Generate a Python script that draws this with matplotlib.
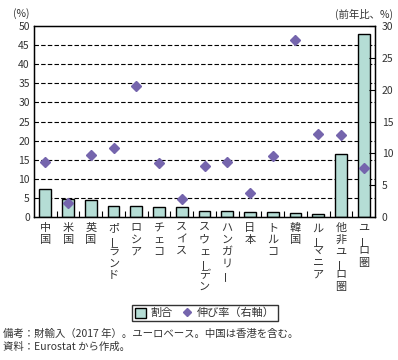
import matplotlib.pyplot as plt
from matplotlib.lines import Line2D
from matplotlib.patches import Patch

plt.rcParams['font.family'] = ['Noto Sans CJK JP', 'DejaVu Sans']

categories = ['中国', '米国', '英国', 'ポーランド', 'ロシア', 'チェコ', 'スイス',
              'スウェーデン', 'ハンガリー', '日本', 'トルコ', '韓国', 'ルーマニア',
              '他非ユーロ圏', 'ユーロ圏']
share = [7.3, 4.8, 4.4, 2.8, 2.8, 2.5, 2.5, 1.6, 1.6, 1.2, 1.2, 1.0, 0.7, 16.4, 47.8]
growth = [8.6, 2.2, 9.8, 10.9, 20.6, 8.5, 2.9, 8.0, 8.6, 3.8, 9.6, 27.8, 13.1, 12.9, 7.7]

BAR = '#b5ddd5'
DOT = '#7565ad'
TXT = '#333333'

fig = plt.figure(figsize=(3.98, 3.6), dpi=100)
ax = fig.add_axes([34 / 398, 1 - 217 / 360, 341 / 398, 191 / 360])
x = list(range(len(categories)))

for y in range(5, 50, 5):
    ax.axhline(y, color='black', linewidth=0.8, linestyle=(0, (4, 2)), zorder=1)

ax.bar(x, share, width=0.52, color=BAR, edgecolor='black', linewidth=1.0, zorder=2)
ax.set_xlim(-0.5, len(categories) - 0.5)
ax.set_ylim(0, 50)
ax.set_yticks(range(0, 51, 5))
ax.tick_params(axis='y', length=0, labelsize=7.5, labelcolor=TXT, pad=3)
ax.set_xticks([i + 0.5 for i in x[:-1]])
ax.set_xticklabels([])
ax.tick_params(axis='x', direction='in', length=4, width=0.8)
for s in ax.spines.values():
    s.set_linewidth(1.0)

ax2 = ax.twinx()
ax2.plot(x, growth, linestyle='none', marker='D', markersize=5, color=DOT, zorder=3)
ax2.set_ylim(0, 30)
ax2.set_yticks(range(0, 31, 5))
ax2.tick_params(axis='y', direction='in', length=4, width=0.8, labelsize=7.5,
                labelcolor=TXT, pad=5)

# vertical category labels, one character per line
pitch = 11.7 / 191
for i, name in enumerate(categories):
    for j, ch in enumerate(name):
        ax.text(i, -0.059 - j * pitch, ch, transform=ax.get_xaxis_transform(),
                ha='center', va='center', fontsize=8, color=TXT,
                rotation=90 if ch == 'ー' else 0)

fig.text(13 / 398, 1 - 14 / 360, '(%)', fontsize=7.5, color=TXT, va='center')
fig.text(393 / 398, 1 - 14 / 360, '(前年比、%)', fontsize=7.5, color=TXT,
         va='center', ha='right')

handles = [Patch(facecolor=BAR, edgecolor='black', linewidth=1.0),
           Line2D([], [], linestyle='none', marker='D', markersize=4.5, color=DOT)]
leg = fig.legend(handles, ['割合', '伸び率（右軸）'], loc='center',
                 bbox_to_anchor=(205 / 398, 1 - 313 / 360), ncol=2, fontsize=8,
                 frameon=True, fancybox=False, edgecolor='black', handlelength=1.0,
                 handleheight=1.0, handletextpad=0.4, columnspacing=0.8,
                 borderpad=0.25, labelcolor=TXT)
leg.get_frame().set_linewidth(1.0)

fig.text(3 / 398, 1 - 334 / 360, '備考：財輸入（2017 年）。ユーロベース。中国は香港を含む。',
         fontsize=7.5, color=TXT, va='center')
fig.text(3 / 398, 1 - 347 / 360, '資料：Eurostat から作成。',
         fontsize=7.5, color=TXT, va='center')

fig.savefig('out.png', dpi=100)
